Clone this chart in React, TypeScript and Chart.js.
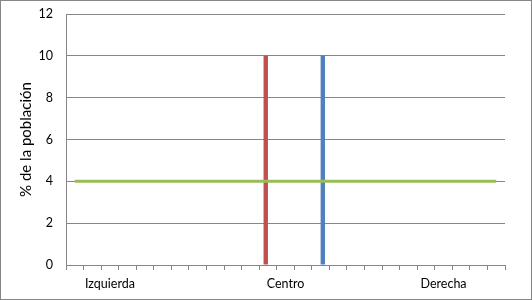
import { useEffect, useRef } from "react";
import { Chart, registerables } from "chart.js";

Chart.register(...registerables);

// 25 positions along the left–right scale; only three carry a caption
const categories: string[] = [
  "", "", "Izquierda", "", "", "", "", "", "", "", "", "", "Centro",
  "", "", "", "", "", "", "", "", "Derecha", "", "", "",
];

// % of the population at each position
const seriesRed: (number | null)[] = [
  null, null, null, null, null, null, null, null, null, null, null, 10, null,
  null, null, null, null, null, null, null, null, null, null, null, null,
];
const seriesBlue: (number | null)[] = [
  null, null, null, null, null, null, null, null, null, null, null, null, null,
  null, 10, null, null, null, null, null, null, null, null, null, null,
];
const seriesGreen: number[] = [
  4, 4, 4, 4, 4, 4, 4, 4, 4, 4, 4, 4, 4,
  4, 4, 4, 4, 4, 4, 4, 4, 4, 4, 4, 4,
];

const yTicks = { min: 0, max: 12, step: 2 };
const yTitle = "% de la población";

const GRID = "#868686";
const FONT = "Lato, 'Open Sans', sans-serif";

const frame = {
  id: "frame",
  afterDraw(chart: Chart) {
    const { ctx, width, height } = chart;
    ctx.save();
    ctx.strokeStyle = GRID;
    ctx.lineWidth = 1;
    ctx.strokeRect(0.5, 0.5, width - 1, height - 1);
    ctx.restore();
  },
};

export default function App() {
  const ref = useRef<HTMLCanvasElement>(null);

  useEffect(() => {
    if (!ref.current) return;
    const chart = new Chart(ref.current, {
      type: "bar",
      data: {
        labels: categories,
        datasets: [
          {
            type: "line",
            label: "c",
            data: seriesGreen,
            borderColor: "#9BBB59",
            backgroundColor: "#9BBB59",
            borderWidth: 3,
            pointRadius: 0,
            order: 0,
          } as any,
          {
            label: "a",
            data: seriesRed,
            backgroundColor: "#C0504D",
            categoryPercentage: 0.5,
            barPercentage: 1,
            order: 1,
          },
          {
            label: "b",
            data: seriesBlue,
            backgroundColor: "#4F81BD",
            categoryPercentage: 0.5,
            barPercentage: 1,
            order: 1,
          },
        ],
      },
      options: {
        responsive: false,
        animation: false,
        devicePixelRatio: 1,
        layout: { padding: { left: 0, top: 14, right: 27, bottom: 0 } },
        plugins: { legend: { display: false }, tooltip: { enabled: false } },
        scales: {
          x: {
            offset: true,
            afterFit(scale: any) {
              scale.height = 35;
            },
            grid: {
              offset: true,
              drawOnChartArea: false,
              drawTicks: true,
              tickLength: 5,
              color: GRID,
            },
            border: { display: true, color: GRID },
            ticks: {
              autoSkip: false,
              maxRotation: 0,
              minRotation: 0,
              padding: 6,
              color: "#000",
              font: { family: FONT, size: 12.5 },
            },
          },
          y: {
            min: yTicks.min,
            max: yTicks.max,
            afterFit(scale: any) {
              scale.width = 66;
            },
            grid: {
              color: GRID,
              drawTicks: true,
              tickLength: 13,
              tickColor: "rgba(0,0,0,0)",
            },
            border: { display: true, color: GRID },
            ticks: {
              stepSize: yTicks.step,
              padding: 0,
              color: "#000",
              font: { family: FONT, size: 12.5 },
            },
            title: {
              display: true,
              text: yTitle,
              color: "#000",
              padding: { top: 17, bottom: 0 },
              font: { family: FONT, size: 15 },
            },
          },
        },
      },
      plugins: [frame],
    });
    return () => chart.destroy();
  }, []);

  return (
    <div style={{ position: "fixed", left: 0, top: 0, width: 532, height: 300, background: "#fff" }}>
      <canvas ref={ref} width={532} height={300} style={{ display: "block" }} />
    </div>
  );
}
